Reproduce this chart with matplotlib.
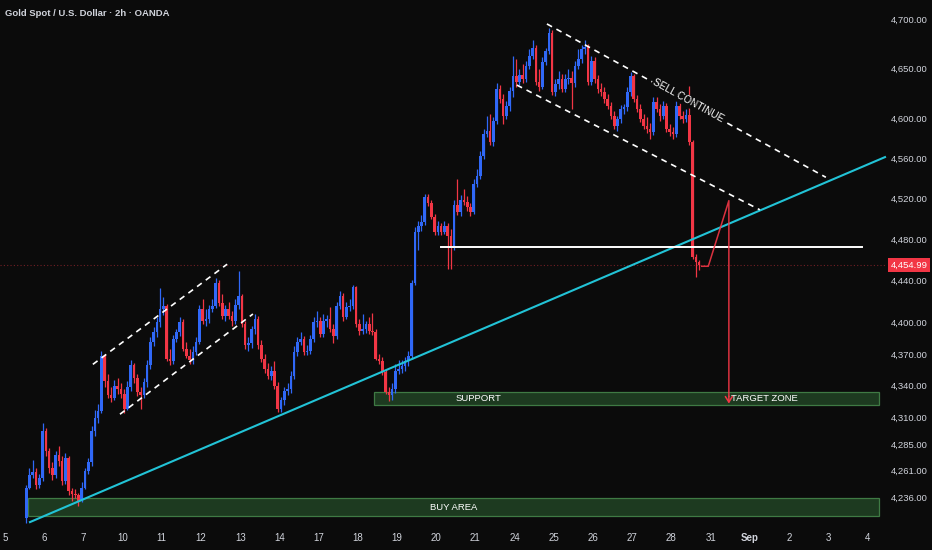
import matplotlib
matplotlib.use("Agg")
import matplotlib.pyplot as plt
from matplotlib.patches import Rectangle, FancyArrowPatch
from matplotlib.ticker import NullLocator

plt.rcParams['font.family'] = ['Liberation Sans', 'DejaVu Sans']

# ---------------- data ----------------
TITLE = "Gold Spot / U.S. Dollar · 2h · OANDA"
FIRST_BAR = 6          # index of first 2h bar (12 bars per day)
BARS_PER_DAY = 12
day_labels = ['5', '6', '7', '10', '11', '12', '13', '14', '17', '18', '19', '20',
              '21', '24', '25', '26', '27', '28', '31', 'Sep', '2', '3', '4']

opens = [4217, 4244, 4256, 4259, 4247, 4254, 4297, 4279, 4263, 4256,
         4275, 4269, 4251, 4272, 4242, 4239, 4238, 4232, 4244, 4260,
         4268, 4297, 4309, 4316, 4368, 4344, 4331, 4328, 4340, 4337,
         4332, 4318, 4339, 4359, 4347, 4334, 4331, 4343, 4359, 4381,
         4391, 4400, 4413, 4416, 4365, 4363, 4384, 4391, 4400, 4375,
         4368, 4364, 4372, 4381, 4413, 4401, 4403, 4413, 4416, 4438,
         4419, 4406, 4413, 4406, 4401, 4417, 4425, 4398, 4378, 4380,
         4394, 4403, 4378, 4365, 4356, 4349, 4354, 4340, 4318, 4326,
         4335, 4337, 4349, 4372, 4381, 4384, 4372, 4373, 4384, 4400,
         4401, 4389, 4401, 4403, 4394, 4387, 4416, 4425, 4405, 4415,
         4416, 4434, 4398, 4392, 4394, 4398, 4392, 4391, 4365, 4363,
         4353, 4334, 4331, 4337, 4354, 4356, 4358, 4363, 4368, 4438,
         4487, 4493, 4497, 4522, 4516, 4502, 4487, 4493, 4487, 4493,
         4483, 4472, 4514, 4507, 4519, 4517, 4512, 4507, 4534, 4542,
         4562, 4584, 4587, 4576, 4597, 4629, 4619, 4602, 4612, 4627,
         4642, 4636, 4643, 4639, 4652, 4662, 4671, 4636, 4631, 4656,
         4667, 4686, 4626, 4634, 4639, 4629, 4639, 4640, 4635, 4652,
         4659, 4669, 4672, 4636, 4657, 4639, 4629, 4626, 4619, 4612,
         4602, 4592, 4599, 4609, 4611, 4626, 4642, 4619, 4609, 4599,
         4592, 4589, 4586, 4616, 4609, 4602, 4612, 4589, 4586, 4584,
         4612, 4602, 4599, 4603, 4576, 4463, 4458]

highs = [4247, 4263, 4270, 4263, 4257, 4305, 4300, 4281, 4268, 4279,
         4283, 4274, 4277, 4274, 4244, 4243, 4240, 4250, 4263, 4272,
         4302, 4317, 4323, 4373, 4370, 4351, 4339, 4345, 4347, 4342,
         4337, 4344, 4364, 4361, 4351, 4339, 4347, 4364, 4386, 4396,
         4405, 4433, 4424, 4418, 4375, 4388, 4394, 4405, 4403, 4381,
         4375, 4377, 4386, 4417, 4422, 4413, 4417, 4422, 4443, 4441,
         4427, 4417, 4420, 4411, 4422, 4449, 4427, 4401, 4386, 4397,
         4408, 4406, 4383, 4370, 4361, 4358, 4363, 4343, 4329, 4339,
         4342, 4354, 4377, 4386, 4391, 4387, 4378, 4388, 4405, 4411,
         4405, 4408, 4407, 4415, 4398, 4420, 4430, 4428, 4420, 4422,
         4436, 4435, 4403, 4408, 4401, 4405, 4409, 4394, 4370, 4367,
         4356, 4339, 4342, 4360, 4364, 4364, 4367, 4373, 4441, 4492,
         4498, 4504, 4525, 4525, 4519, 4505, 4498, 4496, 4498, 4496,
         4490, 4519, 4539, 4524, 4529, 4523, 4516, 4539, 4549, 4567,
         4589, 4602, 4604, 4601, 4635, 4633, 4624, 4617, 4631, 4662,
         4659, 4649, 4654, 4657, 4669, 4679, 4674, 4649, 4661, 4671,
         4691, 4689, 4639, 4647, 4644, 4644, 4649, 4647, 4657, 4669,
         4674, 4679, 4675, 4662, 4661, 4643, 4635, 4631, 4624, 4616,
         4607, 4602, 4613, 4614, 4631, 4646, 4644, 4623, 4614, 4604,
         4601, 4595, 4621, 4621, 4614, 4617, 4615, 4594, 4591, 4617,
         4615, 4607, 4609, 4632, 4578, 4466, 4460]

lows = [4212, 4243, 4254, 4243, 4244, 4251, 4274, 4258, 4252, 4254,
        4265, 4247, 4248, 4238, 4232, 4235, 4228, 4231, 4243, 4257,
        4265, 4293, 4305, 4314, 4339, 4328, 4324, 4326, 4332, 4328,
        4314, 4317, 4335, 4342, 4330, 4318, 4328, 4339, 4356, 4377,
        4386, 4396, 4407, 4363, 4359, 4360, 4381, 4387, 4373, 4366,
        4360, 4360, 4369, 4379, 4398, 4397, 4399, 4410, 4414, 4416,
        4403, 4401, 4403, 4397, 4398, 4413, 4396, 4375, 4373, 4376,
        4389, 4375, 4362, 4352, 4346, 4345, 4337, 4315, 4315, 4322,
        4331, 4333, 4346, 4368, 4378, 4369, 4369, 4370, 4381, 4396,
        4386, 4386, 4396, 4391, 4380, 4384, 4413, 4401, 4403, 4411,
        4413, 4396, 4388, 4389, 4390, 4389, 4388, 4364, 4360, 4350,
        4332, 4325, 4326, 4333, 4351, 4352, 4354, 4358, 4365, 4436,
        4470, 4488, 4494, 4513, 4500, 4484, 4484, 4484, 4485, 4451,
        4451, 4470, 4504, 4503, 4514, 4508, 4503, 4505, 4531, 4539,
        4559, 4581, 4573, 4572, 4594, 4615, 4594, 4599, 4607, 4621,
        4631, 4633, 4635, 4636, 4649, 4659, 4633, 4627, 4629, 4653,
        4664, 4623, 4622, 4629, 4626, 4626, 4634, 4609, 4631, 4649,
        4655, 4664, 4633, 4633, 4635, 4625, 4622, 4615, 4609, 4599,
        4589, 4587, 4595, 4604, 4607, 4622, 4616, 4606, 4596, 4589,
        4585, 4579, 4583, 4606, 4597, 4599, 4586, 4582, 4579, 4581,
        4599, 4595, 4596, 4573, 4461, 4444, 4450]

closes = [4244, 4256, 4259, 4247, 4254, 4297, 4279, 4263, 4256, 4275,
          4269, 4251, 4272, 4242, 4239, 4238, 4232, 4244, 4260, 4268,
          4297, 4309, 4316, 4368, 4344, 4331, 4328, 4340, 4337, 4332,
          4318, 4339, 4359, 4347, 4334, 4331, 4343, 4359, 4381, 4391,
          4400, 4413, 4416, 4365, 4363, 4384, 4391, 4400, 4375, 4368,
          4364, 4372, 4381, 4413, 4401, 4403, 4413, 4416, 4438, 4419,
          4406, 4413, 4406, 4401, 4417, 4425, 4398, 4378, 4380, 4394,
          4403, 4378, 4365, 4356, 4349, 4354, 4340, 4318, 4326, 4335,
          4337, 4349, 4372, 4381, 4384, 4372, 4373, 4384, 4400, 4401,
          4389, 4401, 4403, 4394, 4387, 4416, 4425, 4405, 4415, 4416,
          4434, 4398, 4392, 4394, 4398, 4392, 4391, 4365, 4363, 4353,
          4334, 4331, 4337, 4354, 4356, 4358, 4363, 4368, 4438, 4487,
          4493, 4497, 4522, 4516, 4502, 4487, 4493, 4487, 4493, 4483,
          4472, 4514, 4507, 4519, 4517, 4512, 4507, 4534, 4542, 4562,
          4584, 4587, 4576, 4597, 4629, 4619, 4602, 4612, 4627, 4642,
          4636, 4643, 4639, 4652, 4662, 4671, 4636, 4631, 4656, 4667,
          4686, 4626, 4634, 4639, 4629, 4639, 4640, 4635, 4652, 4659,
          4669, 4672, 4636, 4657, 4639, 4629, 4626, 4619, 4612, 4602,
          4592, 4599, 4609, 4611, 4626, 4642, 4619, 4609, 4599, 4592,
          4589, 4586, 4616, 4609, 4602, 4612, 4589, 4586, 4584, 4612,
          4602, 4599, 4603, 4576, 4463, 4458, 4454.99]

price_ticks = [4236, 4261, 4285, 4310, 4340, 4370, 4400, 4440, 4480,
               4520, 4560, 4600, 4650, 4700]
last_price = 4454.99

# drawings: (bar position, price)
trend_line = [(7.65, 4213), (269.4, 4561)]
up_channel_top = [(26.9, 4360), (68.0, 4456)]
up_channel_bottom = [(35.2, 4313), (75.9, 4408)]
down_channel_top = [(165.9, 4695), (251.3, 4541)]
down_channel_bottom = [(156.7, 4633), (231.1, 4509)]
neckline = [(133.5, 4473), (262.3, 4473)]
projection = [(213.3, 4454), (215.3, 4454), (221.6, 4518), (221.6, 4330)]
projection_tip = (221.6, 4323)
support_zone = (112.9, 267.5, 4322, 4334)
buy_zone = (7.0, 267.5, 4218.5, 4235)
label_support = (145.1, 'SUPPORT')
label_target = (232.6, 'TARGET ZONE')
label_buy = (137.4, 'BUY AREA')
label_sell = (209.1, 4617, 'SELL CONTINUE')

# ---------------- style ----------------
BG = '#0b0b0b'
UP = '#3068f7'
DOWN = '#f23645'
TXT = '#d1d4dc'
FS = 6.8

fig = plt.figure(figsize=(9.32, 5.5), dpi=100, facecolor=BG)
ax = fig.add_axes([0, 23 / 550, 885 / 932, 527 / 550])
ax.set_facecolor(BG)
for s in ax.spines.values():
    s.set_visible(False)

ax.set_yscale('log')
ax.set_xlim(-1.53, 269.4)
ax.set_ylim(4208.5, 4719.5)

# candles
n = len(closes)
xs = [FIRST_BAR + i + 0.5 for i in range(n)]
cols = [UP if c >= o else DOWN for o, c in zip(opens, closes)]
ax.vlines(xs, lows, highs, colors=cols, linewidth=0.9, zorder=3)
bottoms = [min(o, c) for o, c in zip(opens, closes)]
heights = [max(abs(c - o), 0.7) for o, c in zip(opens, closes)]
ax.bar(xs, heights, bottom=bottoms, width=0.8, color=cols, linewidth=0, zorder=4)

# zones
for (x0, x1, y0, y1) in (support_zone, buy_zone):
    ax.add_patch(Rectangle((x0, y0), x1 - x0, y1 - y0, facecolor='#1d3a20',
                           edgecolor='#3f7a44', linewidth=0.9, zorder=2))

sup_mid = (support_zone[2] * support_zone[3]) ** 0.5
buy_mid = (buy_zone[2] * buy_zone[3]) ** 0.5
for (xp, txt), ymid in ((label_support, sup_mid), (label_target, sup_mid), (label_buy, buy_mid)):
    ax.text(xp, ymid, txt, color='white', fontsize=FS, ha='center', va='center', zorder=6)

# current price line
ax.axhline(last_price, color=DOWN, alpha=0.45, linewidth=0.8, linestyle=(0, (1, 2)), zorder=1)

# trend line
(tx0, ty0), (tx1, ty1) = trend_line
ax.plot([tx0, tx1], [ty0, ty1], color='#22c3d6', linewidth=1.5, zorder=5, clip_on=False)

# dashed channels
for seg in (up_channel_top, up_channel_bottom, down_channel_top, down_channel_bottom):
    ax.plot([p[0] for p in seg], [p[1] for p in seg], color='white', linewidth=1.2,
            dashes=(3.5, 3.0), zorder=5)

# neckline
ax.plot([p[0] for p in neckline], [p[1] for p in neckline], color='white',
        linewidth=1.4, zorder=5)

ax.text(label_sell[0], label_sell[1], label_sell[2], color='white', fontsize=7.2,
        rotation=-28.9, rotation_mode='anchor', ha='center', va='center', zorder=7,
        bbox=dict(boxstyle='square,pad=0.1', facecolor=BG, edgecolor='none'))

# projection path
ax.plot([p[0] for p in projection], [p[1] for p in projection], color=DOWN,
        linewidth=1.1, alpha=0.9, zorder=6)
ax.add_patch(FancyArrowPatch(projection[-1], projection_tip,
                             arrowstyle='->,head_length=4,head_width=2.5',
                             color=DOWN, linewidth=1.1, zorder=6, shrinkA=0, shrinkB=0))

# axes ticks
ax.yaxis.tick_right()
ax.set_yticks(price_ticks, labels=[f"{v:,.2f}" for v in price_ticks])
ax.yaxis.set_minor_locator(NullLocator())
ax.tick_params(axis='y', length=0, pad=4, labelsize=FS, labelcolor=TXT)

ax.set_xticks([BARS_PER_DAY * k for k in range(len(day_labels))], labels=day_labels)
ax.xaxis.set_minor_locator(NullLocator())
ax.tick_params(axis='x', length=0, pad=4, labelsize=FS + 0.2, labelcolor=TXT)
for lbl in ax.get_xticklabels():
    if lbl.get_text() == 'Sep':
        lbl.set_fontweight('bold')

# last price label
ax.annotate(f"{last_price:,.2f}", xy=(1.0, last_price), xycoords=('axes fraction', 'data'),
            xytext=(4, 0), textcoords='offset points', ha='left', va='center',
            color='white', fontsize=FS, annotation_clip=False,
            bbox=dict(boxstyle='square,pad=0.25', facecolor=DOWN, edgecolor='none'))

fig.text(5 / 932, 1 - 14 / 550, TITLE, color=TXT, fontsize=6.8, fontweight='bold',
         ha='left', va='center')

fig.savefig('out.png', dpi=100, facecolor=BG)
